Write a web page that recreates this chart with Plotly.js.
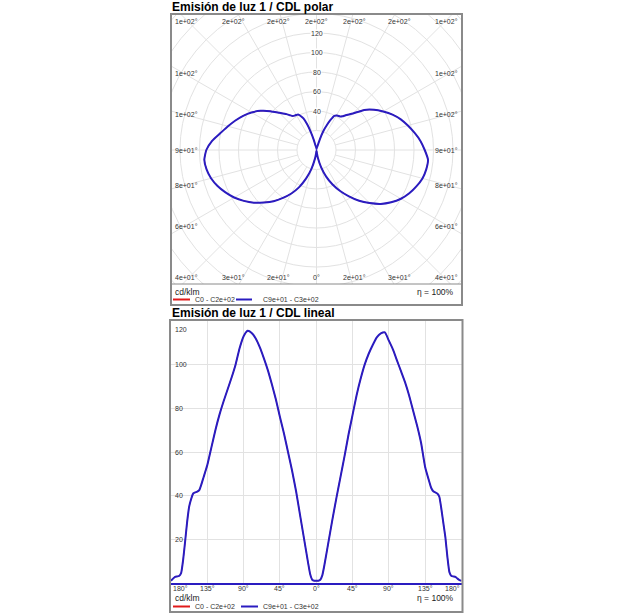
<!DOCTYPE html>
<html><head><meta charset="utf-8">
<script src="https://cdn.plot.ly/plotly-3.0.1.min.js"></script>
<style>html,body{margin:0;padding:0;background:#fff}#chart{width:633px;height:614px}</style>
</head><body><div id="chart"></div>
<script>
// ---------------- data ----------------
const gamma = [0,2.5,5,7.5,10,15,20,25,30,35,40,45,50,55,60,65,70,75,80,85,90,95,100,105,110,115,120,125,130,135,140,142.5,145,147.5,150,152.5,155,157.5,160,162.5,165,167.5,170,172.5,175,177.5,180];
// C270 plane (left half of the linear chart, left lobe of the polar chart)
const cdC270 = [1,1,1.5,4,9,20,31,42,51.5,60,68.5,76,84,91,97.5,103,108,112,114.5,115.5,113,107.5,100,94,88.5,83,77,70,62,54,48,45,42.5,41.8,41.5,41,38.5,35,28,19,10.5,4.5,3.2,3,2.8,2,1];
// C90 plane (right half)
const cdC90 = [1,1,1.5,3.5,8,18.5,29,39,48.5,58,68,77,86,93.5,100,105,109,112.5,114.3,114.8,111,107,102,97,92,86,79,72,64,53,46.5,43.5,42,41.5,41,39.5,34,27.5,21,12,5,3.2,3,2.8,2,1.3,1];
// C0 / C180 planes (rotationally symmetric luminaire: same values, drawn under the blue curve)
const cdC0 = cdC90.slice();
const cdC180 = cdC270.slice();

const seriesNames = ['C0 - C2e+02', 'C9e+01 - C3e+02'];
const seriesColors = ['#e01a1a', '#2a1cc0'];
const titles = ['Emisión de luz 1 / CDL polar', 'Emisión de luz 1 / CDL lineal'];
const unitText = 'cd/klm';
const etaText = 'η = 100%';

const polarRings = [20,40,60,80,100,120,140,160,180,200,220];
const polarRingLabels = [40,60,80,100,120];
const polarAngles = [0,15,30,45,60,75,90,105,120,135,150,165,180];
const polarAngleLabels = ['0°','2e+01°','3e+01°','4e+01°','6e+01°','8e+01°','9e+01°','1e+02°','1e+02°','1e+02°','2e+02°','2e+02°','2e+02°'];

const linearXTicks = [-180,-135,-90,-45,0,45,90,135,180];
const linearXLabels = ['180°','135°','90°','45°','0°','45°','90°','135°','180°'];
const linearYTicks = [20,40,60,80,100,120];

// ---------------- layout helpers ----------------
const W = 633, H = 614;
const FONT = 'Arial, "Liberation Sans", Helvetica, sans-serif';
const px = x => x / W, py = y => 1 - y / H;
const FRAME = '#8a8a8a', GRID = '#e2e2e2', TXT = '#333';

const P = {cx:316.5, cy:150, k:0.975, left:171, right:462, top:14, bottom:284};
const L = {left:171, right:461.5, top:321, bottom:583};

const rad = d => d * Math.PI / 180;

function polarPath(vLeft, vRight) {
  const xs = [], ys = [];
  for (let i = gamma.length - 1; i >= 0; i--) { xs.push(-vLeft[i] * Math.sin(rad(gamma[i]))); ys.push(-vLeft[i] * Math.cos(rad(gamma[i]))); }
  for (let i = 0; i < gamma.length; i++) { xs.push(vRight[i] * Math.sin(rad(gamma[i]))); ys.push(-vRight[i] * Math.cos(rad(gamma[i]))); }
  return {xs, ys};
}
function linearPath(vLeft, vRight) {
  const xs = [], ys = [];
  for (let i = gamma.length - 1; i >= 0; i--) { xs.push(-gamma[i]); ys.push(vLeft[i]); }
  for (let i = 1; i < gamma.length; i++) { xs.push(gamma[i]); ys.push(vRight[i]); }
  return {xs, ys};
}

const traces = [];
const pRed = polarPath(cdC180, cdC0), pBlue = polarPath(cdC270, cdC90);
const lRed = linearPath(cdC180, cdC0), lBlue = linearPath(cdC270, cdC90);
const lineOf = (i, w) => ({color:seriesColors[i], width:w, shape:'spline', smoothing:0.5});
traces.push({x:pRed.xs, y:pRed.ys, xaxis:'x', yaxis:'y', mode:'lines', name:seriesNames[0], line:lineOf(0, 1), showlegend:false, hoverinfo:'skip'});
traces.push({x:pBlue.xs, y:pBlue.ys, xaxis:'x', yaxis:'y', mode:'lines', name:seriesNames[1], line:lineOf(1, 2), showlegend:false, hoverinfo:'skip'});
traces.push({x:lRed.xs, y:lRed.ys, xaxis:'x2', yaxis:'y2', mode:'lines', name:seriesNames[0], line:lineOf(0, 1), showlegend:false, hoverinfo:'skip'});
traces.push({x:lBlue.xs, y:lBlue.ys, xaxis:'x2', yaxis:'y2', mode:'lines', name:seriesNames[1], line:lineOf(1, 2), showlegend:false, hoverinfo:'skip'});

const shapes = [];
// polar grid (clipped to subplot)
polarRings.forEach(r => shapes.push({type:'circle', xref:'x', yref:'y', x0:-r, x1:r, y0:-r, y1:r, line:{color:GRID, width:1}, layer:'below'}));
for (let a = 0; a < 360; a += 15) {
  const s = Math.sin(rad(a)), c = -Math.cos(rad(a));
  shapes.push({type:'line', xref:'x', yref:'y', x0:20*s, y0:20*c, x1:300*s, y1:300*c, line:{color:GRID, width:1}, layer:'below'});
}
// frames
shapes.push({type:'rect', xref:'paper', yref:'paper', x0:px(P.left), x1:px(P.right), y0:py(305), y1:py(P.top), line:{color:FRAME, width:2}});
shapes.push({type:'line', xref:'paper', yref:'paper', x0:px(P.left), x1:px(P.right), y0:py(P.bottom), y1:py(P.bottom), line:{color:FRAME, width:1}});
shapes.push({type:'rect', xref:'paper', yref:'paper', x0:px(170), x1:px(462.5), y0:py(612), y1:py(320), line:{color:FRAME, width:2}});

const annotations = [];
function txt(x, y, text, o) {
  annotations.push(Object.assign({xref:'paper', yref:'paper', x:px(x), y:py(y), text, showarrow:false, xanchor:'center', yanchor:'middle', font:{family:FONT, size:7, color:TXT}}, o || {}));
}
// titles
txt(170, 7, '<b>' + titles[0] + '</b>', {xanchor:'left', font:{family:FONT, size:12, color:'#000'}});
txt(170, 313, '<b>' + titles[1] + '</b>', {xanchor:'left', font:{family:FONT, size:12, color:'#000'}});

// polar radial labels
polarRingLabels.forEach(r => annotations.push({xref:'x', yref:'y', x:0, y:r, text:String(r), showarrow:false, bgcolor:'#fff', borderpad:0, font:{family:FONT, size:7, color:TXT}}));
// polar angle labels around frame
polarAngles.forEach((a, i) => {
  const sides = (a === 0 || a === 180) ? [1] : [-1, 1];
  sides.forEach(sd => {
    let x, y;
    if (a <= 45) { y = P.cy + 127; x = P.cx + sd * Math.min(143 * Math.tan(rad(a)), 130); }
    else if (a >= 135) { y = P.cy - 129; x = P.cx + sd * Math.min(143 * Math.tan(rad(180 - a)), 130); }
    else { x = P.cx + sd * 130; y = P.cy + 132 / Math.tan(rad(a)); }
    if (a === 0 || a === 180) x = P.cx;
    txt(x, y, polarAngleLabels[i]);
  });
});

// linear tick labels
linearXTicks.forEach((v, i) => {
  let anchor = 'center';
  if (i === 0) anchor = 'left';
  if (i === linearXTicks.length - 1) anchor = 'right';
  annotations.push({xref:'x2', yref:'paper', x:v, y:py(588), text:linearXLabels[i], showarrow:false, xanchor:anchor, yanchor:'middle', font:{family:FONT, size:7, color:TXT}});
});
linearYTicks.forEach((v, i) => {
  annotations.push({xref:'paper', yref:'y2', x:px(173), y:v, text:String(v), showarrow:false, xanchor:'left', yanchor:'middle', yshift: v === 120 ? -8 : 0, font:{family:FONT, size:7, color:TXT}});
});

// legend / footer blocks
function footer(yUnit, yLeg, blueX0, blueX1) {
  txt(173, yUnit, unitText, {xanchor:'left', font:{family:FONT, size:8.5, color:'#222'}});
  txt(456, yUnit, etaText, {xanchor:'right', font:{family:FONT, size:8.5, color:'#222'}});
  shapes.push({type:'line', xref:'paper', yref:'paper', x0:px(173), x1:px(190), y0:py(yLeg), y1:py(yLeg), line:{color:seriesColors[0], width:2}});
  txt(193, yLeg, seriesNames[0], {xanchor:'left'});
  shapes.push({type:'line', xref:'paper', yref:'paper', x0:px(blueX0), x1:px(blueX1), y0:py(yLeg), y1:py(yLeg), line:{color:seriesColors[1], width:2}});
  txt(261, yLeg, seriesNames[1], {xanchor:'left'});
}
footer(292, 299.5, 236, 252);
footer(598, 606.5, 241, 258);

const layout = {
  width: W, height: H,
  margin: {l:0, r:0, t:0, b:0},
  paper_bgcolor: '#fff', plot_bgcolor: 'rgba(0,0,0,0)',
  showlegend: false,
  xaxis: {domain:[px(P.left), px(P.right)], range:[(P.left - P.cx)/P.k, (P.right - P.cx)/P.k], visible:false, anchor:'y'},
  yaxis: {domain:[py(P.bottom), py(P.top)], range:[-(P.bottom - P.cy)/P.k, (P.cy - P.top)/P.k], visible:false, anchor:'x'},
  xaxis2: {domain:[px(L.left), px(L.right)], range:[-180, 180], anchor:'y2', tickvals:linearXTicks, showticklabels:false, ticks:'', showgrid:true, gridcolor:GRID, gridwidth:1, zeroline:false, showline:true, linecolor:seriesColors[1], linewidth:2},
  yaxis2: {domain:[py(L.bottom), py(L.top)], range:[0, 120], anchor:'x2', tickvals:[0].concat(linearYTicks), showticklabels:false, ticks:'', showgrid:true, gridcolor:GRID, gridwidth:1, zeroline:false, showline:false},
  shapes, annotations
};

Plotly.newPlot('chart', traces, layout, {staticPlot:true, displayModeBar:false});
</script>
</body></html>
